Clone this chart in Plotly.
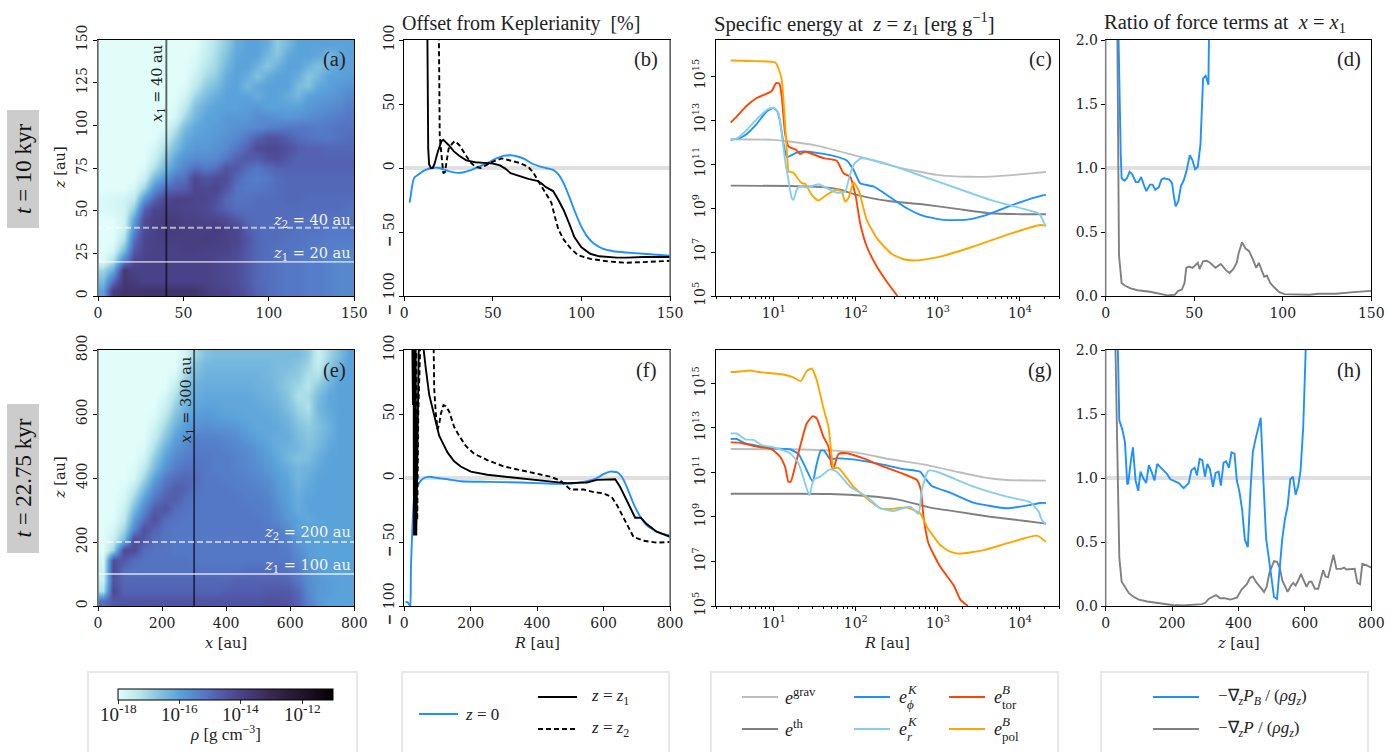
import numpy as np
import plotly.graph_objects as go

W, H = 1391, 752
SERIF = "Liberation Serif"
TICK = "DejaVu Serif"
BLUE, BLACK, GRAV, THERM, LBLUE, RED, ORANGE = "#1e90ff", "#000000", "#bdbdbd", "#808080", "#87ceeb", "#ff4500", "#ffa500"

# ---- density maps: -10*log10(rho), rows bottom to top
x_a = [3 + 6 * i for i in range(25)]
z_a = x_a
rho_a = [
 [160,138,135,135,135,135,135,135,135,135,138,140,140,142,145,148,150,151,152,152,153,153,154,155,155],
 [165,150,136,138,140,140,140,140,140,140,140,141,142,143,146,149,150,151,152,152,153,153,154,155,155],
 [170,162,137,140,140,140,140,140,140,140,140,141,142,143,146,149,150,151,152,152,153,153,154,155,155],
 [180,172,155,142,140,140,140,140,140,140,140,141,142,143,146,149,150,151,152,152,153,153,154,155,155],
 [180,178,165,146,141,140,140,140,139,139,140,140,140,142,146,149,150,151,151,152,152,153,153,154,154],
 [180,180,172,150,141,140,139,139,139,139,138,139,140,141,145,149,150,150,151,151,152,152,153,153,153],
 [180,180,176,156,142,140,138,138,139,139,139,138,140,141,147,149,150,150,150,151,151,151,152,152,152],
 [180,180,177,160,143,140,138,138,140,140,141,141,143,146,149,150,150,150,150,150,151,151,151,151,151],
 [179,178,177,168,148,141,140,140,141,141,142,145,148,150,150,150,150,150,150,150,150,150,150,150,151],
 [179,178,177,174,158,148,142,140,140,141,141,144,149,151,151,150,150,150,149,149,150,150,150,150,150],
 [180,180,180,178,170,157,150,148,147,141,142,141,145,151,152,152,151,150,149,149,149,149,149,149,149],
 [180,180,180,180,176,165,158,152,150,142,145,143,143,149,152,153,152,150,149,149,149,149,149,149,149],
 [180,180,180,180,179,172,164,158,154,150,152,150,145,146,150,152,150,148,148,148,148,148,148,148,148],
 [180,180,180,180,180,176,168,161,157,156,156,155,152,148,146,147,144,143,146,148,148,148,148,148,148],
 [180,180,180,180,180,178,172,165,160,158,158,157,155,152,148,143,142,142,144,147,148,148,149,149,149],
 [180,180,180,180,180,180,176,169,162,160,159,158,157,155,152,148,145,145,148,150,151,152,152,151,150],
 [180,180,180,180,180,180,179,173,165,161,160,159,158,157,156,155,154,153,152,152,152,153,152,151,151],
 [180,180,180,180,180,180,180,178,170,164,160,160,158,158,158,156,156,157,158,157,156,155,154,153,152],
 [180,180,180,180,180,180,180,179,174,166,162,160,160,160,159,158,160,160,160,160,158,157,156,155,153],
 [180,180,180,180,180,180,180,180,177,170,165,162,160,160,160,162,160,160,162,164,160,159,158,157,155],
 [180,180,180,180,180,180,180,180,179,174,168,165,161,160,164,161,160,160,160,165,166,161,160,158,157],
 [180,180,180,180,180,180,180,180,180,176,171,168,162,160,162,166,162,160,160,162,167,164,160,160,159],
 [180,180,180,180,180,180,180,180,180,178,173,170,164,160,160,163,167,163,160,160,163,166,163,160,160],
 [180,180,180,180,180,180,180,180,180,179,175,171,166,161,160,160,164,167,161,160,160,161,164,161,160],
 [180,180,180,180,180,180,180,180,180,180,176,172,168,162,160,160,162,168,164,160,160,160,160,160,160],
]
x_e = [16 + 32 * i for i in range(25)]
z_e = x_e
rho_e = [
 [150,146,145,145,145,145,145,145,145,145,145,145,145,145,145,145,144,144,145,148,154,158,160,160,160],
 [172,142,148,148,148,148,148,148,148,148,148,148,147,147,147,147,146,146,146,149,155,158,159,160,160],
 [176,145,149,149,149,149,149,149,149,149,149,149,149,148,148,148,148,148,149,152,156,158,159,160,160],
 [177,142,150,151,151,151,151,151,151,151,151,151,151,151,150,150,150,150,151,153,157,159,160,160,160],
 [178,144,146,150,151,151,151,151,151,152,152,152,152,152,152,152,152,152,152,155,158,160,160,160,160],
 [180,170,142,143,150,151,151,152,152,152,152,152,152,152,152,152,152,152,153,156,159,160,160,160,160],
 [180,176,165,143,146,150,151,152,152,152,152,152,152,152,152,152,152,152,154,158,160,160,160,160,160],
 [180,178,170,155,144,148,151,152,152,152,152,152,152,152,152,152,152,153,156,160,160,160,160,160,160],
 [180,180,174,160,150,144,150,151,152,152,152,152,152,152,152,152,153,155,158,160,161,160,160,160,160],
 [180,180,176,165,155,147,145,150,151,152,152,152,152,152,152,153,153,156,159,162,160,160,160,160,160],
 [180,180,178,170,160,152,148,147,150,152,152,152,152,152,153,153,154,157,160,162,160,160,160,160,160],
 [180,180,179,174,165,156,150,147,148,151,152,152,152,153,153,154,155,158,160,163,161,160,160,160,160],
 [180,180,180,178,170,160,153,150,149,150,152,152,153,153,154,155,156,159,161,164,162,160,160,160,160],
 [180,180,180,179,174,165,157,153,151,151,152,153,153,154,155,156,158,160,162,164,163,161,160,160,160],
 [180,180,180,180,177,168,160,155,153,152,152,153,153,154,155,157,159,161,164,166,165,162,160,160,160],
 [180,180,180,180,179,172,163,158,155,153,153,153,154,155,156,158,160,162,163,164,166,164,161,160,160],
 [180,180,180,180,180,175,167,160,157,154,154,154,155,156,158,160,161,162,162,165,167,165,162,160,160],
 [180,180,180,180,180,177,170,163,159,157,156,157,157,158,160,161,161,161,163,166,168,166,163,160,160],
 [180,180,180,180,180,179,173,166,161,159,158,159,160,160,161,161,161,162,164,168,170,165,162,160,160],
 [180,180,180,180,180,180,176,169,163,161,160,160,161,161,161,161,162,163,166,170,172,164,161,160,160],
 [180,180,180,180,180,180,178,172,165,162,161,161,161,161,161,162,163,164,167,172,171,165,161,160,160],
 [180,180,180,180,180,180,180,175,167,163,162,162,162,162,162,163,163,165,168,170,173,168,163,160,160],
 [180,180,180,180,180,180,180,178,170,165,163,163,163,163,163,163,164,165,167,168,172,172,165,161,160],
 [180,180,180,180,180,180,180,180,174,167,164,164,164,164,164,164,164,165,165,167,170,175,168,163,160],
 [180,180,180,180,180,180,180,180,177,170,166,165,165,165,165,165,165,165,165,165,168,176,170,165,160],
]

# ---- panel b
b_blue_x = [3,4,5,6,8,10,12,15,18,20,25,30,33,38,42,47,52,56,60,64,68,72,76,80,84,87,90,93,96,100,103,107,112,118,125,135,150]
b_blue_y = [-27,-18,-10,-7,-5,-3,-1.5,-0.2,0.3,0,-2.5,-3.8,-3.5,-1.5,1,4,7.5,9.5,10,9,7,3.5,1.5,0,-1.5,-5,-12,-22,-33,-46,-53,-59,-63,-65,-66,-67,-68.5]
b_z1_x = [13,13.2,13.5,14,15,16,17,19,21,22,25,28,31,35,40,45,50,54,57,60,65,70,75,77,80,84,87,90,93,96,100,105,110,120,126,135,150]
b_z1_y = [110,30,15,3,0,0,3,13,21,22,18,13,9.5,6,4.5,4,3.5,2,-0.5,-4,-6.5,-8.5,-10,-11.5,-15,-18,-25,-33,-43,-54,-62,-67,-69,-70,-70,-69.5,-69.5]
b_z2_x = [19.5,19.8,20,21,22,23,24,25,27,28.5,31,34,37,40,43,46,50,55,60,65,70,73,76,80,83,85,87,90,94,98,105,115,125,135,150]
b_z2_y = [110,60,25,10,-4,-3,5,15,19,21,18,12,5,1,0,2,5,7.5,6,4,1,-4,-11,-20,-27,-38,-48,-56,-63,-68,-71,-73,-74,-73.5,-72.5]
# ---- panel f
f_blue_x = [3,10,17,18,20,25,30,35,40,50,60,75,100,130,170,250,350,450,500,550,580,600,620,640,655,670,690,710,730,760,800]
f_blue_y = [-97,-97,-100,-100,-70,-35,-15,-10,-6,-2,0,1,0,-1,-2.5,-3,-3.5,-4.5,-4.5,-2.5,0,3,5,4.5,1,-7,-20,-30,-37,-42,-45]
f_z1_x = [24,26,28,29,31,32,34,36,45,57,65,75,90,105,130,150,170,200,250,300,350,400,450,490,550,580,620,635,650,670,695,712,730,760,800]
f_z1_y = [110,57,110,-45,110,-45,110,-45,130,100,85,65,48,33,20,13,9,5,2.5,1,-0.5,-2,-3,-4,-3.5,-1.5,-1,-1,-7,-18,-31,-31,-36,-42,-46]
f_z2_x = [36,39,42,45,50,88,89,90,95,100,105,110,118,125,135,150,165,185,210,250,300,350,400,440,470,500,540,570,600,625,640,655,670,690,720,760,800]
f_z2_y = [110,-33,50,100,120,110,100,70,50,38,42,50,57,56,52,40,33,25,19,14,9,6,3.5,1,-2,-9,-9,-11,-12,-15,-21,-28,-36,-46,-49,-50.5,-50]

# ---- panel c, log10 values
c_grav_x = [0.476,1,1.138,1.524,2.01,2.5,2.99,3.39,3.64,4.04,4.317]
c_grav_y = [12.13,12.1,12.05,11.84,11.37,10.86,10.51,10.42,10.43,10.54,10.64]
c_th_x = [0.476,1.2,1.6,1.81,2.01,2.42,2.83,3.23,3.64,4.04,4.317]
c_th_y = [10.02,10.0,9.95,9.83,9.6,9.31,9.16,8.96,8.76,8.72,8.72]
c_phi_x = [0.476,.589,.671,.793,.915,.996,1.045,1.077,1.118,1.159,1.199,1.28,1.362,1.524,1.728,1.89,1.972,2.053,2.215,2.419,2.622,2.825,3.069,3.354,3.557,3.841,4.126,4.317]
c_phi_y = [12.1,12.19,12.37,12.83,13.39,13.54,13.39,12.94,11.95,11.31,11.37,11.52,11.57,11.51,11.37,11.16,10.74,10.13,9.98,9.49,8.99,8.64,8.46,8.47,8.64,9.04,9.42,9.61]
c_tor_x = [.476,.549,.671,.793,.976,1.028,1.069,1.098,1.138,1.179,1.272,1.321,1.382,1.606,1.768,1.85,1.931,2.0,2.053,2.134,2.256,2.378,2.508]
c_tor_y = [12.89,13.16,13.65,14,14.32,14.68,14.65,14.07,12.4,11.8,11.65,11.45,11.56,11.27,11.15,10.58,10.43,9.52,8.31,7.25,6.34,5.65,5]
c_r_x = [.476,.549,.671,.793,.935,1.004,1.057,1.098,1.138,1.179,1.22,1.24,1.28,1.321,1.402,1.545,1.646,1.768,1.87,1.923,1.972,2.053,2.134,2.419,2.825,3.232,3.638,4.045,4.228,4.268,4.317]
c_r_y = [12.13,12.16,12.55,13.04,13.51,13.56,13.32,12.4,11.19,10.28,9.45,9.37,9.83,10.0,9.93,10.08,9.9,9.7,9.75,10.43,10.96,11.24,11.24,10.96,10.43,9.9,9.37,8.96,8.76,8.54,8.16]
c_pol_x = [.476,.793,1.016,1.057,1.098,1.138,1.167,1.183,1.24,1.289,1.341,1.382,1.463,1.545,1.646,1.768,1.829,1.87,1.911,1.972,2.033,2.134,2.256,2.439,2.581,2.744,3.028,3.435,3.841,4.248,4.317]
c_pol_y = [15.71,15.68,15.62,15.36,14.83,12.86,11.19,10.66,10.61,10.36,10.13,10.1,9.6,9.34,9.6,9.83,9.75,9.29,9.45,10.16,9.83,8.46,7.63,6.91,6.67,6.62,6.79,7.25,7.78,8.23,8.2]
# ---- panel g, log10 values
g_grav_x = [.476,1.199,1.606,2.013,2.419,2.825,3.232,3.557,3.841,4.317]
g_grav_y = [12.05,12.04,12.0,11.89,11.59,11.36,11.03,10.78,10.66,10.63]
g_th_x = [.476,1.199,1.687,2.134,2.5,2.744,2.907,3.232,3.638,4.045,4.317]
g_th_y = [10.04,10.04,10.03,9.94,9.79,9.58,9.42,9.24,9.01,8.83,8.7]
g_phi_x = [.476,.549,.65,.793,.996,1.199,1.301,1.382,1.476,1.516,1.573,1.614,1.687,1.768,1.931,2.256,2.581,2.785,2.846,2.927,3.15,3.435,3.841,4.126,4.248,4.317]
g_phi_y = [12.5,12.5,12.31,12.2,12.08,12.04,11.83,11.26,10.58,11.26,11.98,11.98,11.6,11.63,11.6,11.41,11.15,11.03,10.73,10.39,10.09,9.64,9.39,9.54,9.63,9.63]
g_tor_x = [.476,.569,.65,.793,.976,1.077,1.138,1.179,1.207,1.26,1.321,1.402,1.476,1.524,1.606,1.667,1.707,1.728,1.789,1.89,2.093,2.337,2.581,2.744,2.793,2.825,2.886,3.028,3.191,3.272,3.366]
g_tor_y = [12.35,12.34,12.28,12.16,12.04,11.71,11.26,10.58,10.58,11.26,12.16,13.2,13.53,13.43,12.6,12.16,11.26,11.18,11.83,11.86,11.63,11.26,10.93,10.66,10.21,9.01,7.81,6.77,5.94,5.3,5]
g_pol_x = [.476,.569,.711,.813,1.118,1.24,1.329,1.402,1.463,1.524,1.606,1.667,1.715,1.728,1.789,1.972,2.134,2.297,2.419,2.622,2.785,2.866,3.028,3.15,3.272,3.557,3.841,4.207,4.317]
g_pol_y = [15.51,15.52,15.58,15.51,15.4,15.27,15.1,15.55,15.67,15.15,13.88,13.05,11.41,11.18,11.21,10.36,9.84,9.39,9.36,9.42,9.16,8.56,7.74,7.44,7.35,7.51,7.81,8.16,7.89]
g_r_x = [.476,.549,.65,.752,.854,.996,1.199,1.301,1.382,1.435,1.484,1.565,1.687,1.768,1.931,2.134,2.297,2.459,2.663,2.764,2.805,2.886,2.988,3.435,3.841,4.126,4.228,4.268,4.317]
g_r_y = [12.75,12.75,12.49,12.46,12.23,12.13,11.86,11.41,10.51,9.97,10.66,10.81,11.14,11.03,10.36,9.91,9.39,9.27,9.46,9.13,10.21,11.08,11.03,10.36,9.91,9.66,9.24,8.86,8.67]

# ---- panel d
d_pb_x = [7,7.2,8.5,9,10.5,12,13.5,15,17,18.5,20,22,23,25,26.5,28,30,31.5,33,36,37.5,38.5,39.5,41,42.5,44,45.5,47.5,49,50.5,52,53.5,55,56.5,58,58.3,59]
d_pb_y = [2.2,2.0,1.1,.92,.9,.92,.97,.95,.89,.89,.93,.85,.82,.87,.87,.83,.85,.91,.92,.91,.88,.78,.7,.74,.86,.9,.97,1.1,1.06,.99,1.01,1.18,1.7,1.72,1.65,2.0,2.3]
d_p_x = [6.5,7.5,9,11,14,18,25,30,35,39,41,43,44.5,45.5,47,49,51,52,53,55,57,59,62,65,68,70,72,74,75,77,79,81,83,85,86.5,88,89.5,91,93,95,98,101,110,115,120,130,140,150]
d_p_y = [2.2,.32,.1,.08,.06,.045,.033,.02,.005,.01,.04,.05,.1,.22,.23,.22,.25,.26,.21,.27,.275,.26,.22,.25,.2,.18,.21,.26,.33,.42,.37,.35,.29,.22,.26,.2,.15,.16,.1,.07,.03,.015,.012,.01,.017,.018,.03,.04]
# ---- panel h
h_pb_x = [35,41,50,58,65,68,75,82,90,98,105,113,122,130,138,147,155,170,185,195,210,220,235,250,258,268,275,283,291,299,306,314,323,331,340,347,355,363,371,379,388,395,403,411,419,428,436,443,451,459,467,475,483,491,499,507,516,524,532,540,548,556,564,572,580,587,595,603]
h_pb_y = [2.2,1.45,1.38,1.28,.95,.96,1.12,1.24,.98,.9,1.05,1.0,.96,1.1,1.05,.98,1.11,1.07,1.03,.99,.97,.96,.92,.96,1.06,1.08,1.02,1.15,1.14,1.01,1.11,1.07,.93,1.04,1.05,.94,1.12,1.13,1.08,1.2,1.19,.98,.89,.75,.52,.46,.9,1.2,1.3,1.38,1.47,.98,.53,.38,.2,.07,.055,.3,.53,.68,.78,.99,1.01,.87,.94,1.06,1.4,2.05]
h_p_x = [28,35,41,48,58,70,85,100,125,150,180,200,235,270,290,300,310,332,345,360,375,395,410,425,435,443,455,465,477,485,493,507,516,524,532,548,558,565,572,580,588,605,613,620,630,640,655,662,670,686,695,710,718,725,750,758,766,773,785,800]
h_p_y = [2.2,1.2,.38,.19,.15,.1,.07,.05,.035,.025,.015,.008,.005,.01,.015,.025,.055,.085,.06,.06,.05,.065,.13,.17,.22,.23,.18,.15,.11,.15,.26,.35,.345,.3,.2,.11,.16,.18,.16,.2,.25,.15,.19,.19,.135,.135,.28,.23,.225,.4,.29,.29,.3,.285,.29,.18,.17,.33,.32,.3]

cbar_ticks = [-18, -16, -14, -12]
cbar_labels = ["10<sup>-18</sup>", "10<sup>-16</sup>", "10<sup>-14</sup>", "10<sup>-12</sup>"]

COLORS = [[0, "#e0fdf9"], [0.1, "#b8e6ec"], [0.171, "#8fcbe0"], [0.286, "#5aa2da"], [0.4, "#5478c6"],
          [0.486, "#5258a8"], [0.571, "#4a4288"], [0.714, "#372850"], [0.857, "#20142a"], [1, "#050005"]]

px = lambda v: v / W
py = lambda v: 1 - v / H

COLS = [(98, 354.3), (404.3, 670), (715.7, 1059.3), (1105.7, 1371.3)]
ROWS = [(40, 296), (350, 606)]

fig = go.Figure()
axis_common = dict(showline=True, mirror=True, linecolor="black", linewidth=1, ticks="outside", ticklen=4, tickwidth=1,
                   tickcolor="black", showgrid=False, zeroline=False, tickfont=dict(family=TICK, size=14, color="#222"))
layout = {}
RANGES = {
    0: ([0, 150], [0, 150]), 1: ([0, 150], [-100, 100]), 2: ([0.293, 4.48], [5, 16.64]), 3: ([0, 150], [0, 2]),
    4: ([0, 800], [0, 800]), 5: ([0, 800], [-100, 100]), 6: ([0.293, 4.48], [5, 16.5]), 7: ([0, 800], [0, 2]),
}
for r, (y0, y1) in enumerate(ROWS):
    for c, (x0, x1) in enumerate(COLS):
        k = r * 4 + c
        xa = dict(axis_common, domain=[px(x0), px(x1)], range=RANGES[k][0], anchor=f"y{k+1}")
        ya = dict(axis_common, domain=[py(y1), py(y0)], range=RANGES[k][1], anchor=f"x{k+1}")
        if c in (0, 1, 2):
            ya["tickangle"] = -90
        if c == 2:
            xa.update(type="log", tickvals=[10, 100, 1000, 10000],
                      ticktext=["10<sup>1</sup>", "10<sup>2</sup>", "10<sup>3</sup>", "10<sup>4</sup>"],
                      minor=dict(ticks="outside", ticklen=2, tickwidth=1, tickcolor="black", dtick="D1", showgrid=False))
            ya.update(type="log", tickvals=[1e5, 1e7, 1e9, 1e11, 1e13, 1e15],
                      ticktext=["10<sup>5</sup>", "10<sup>7</sup>", "10<sup>9</sup>", "10<sup>11</sup>", "10<sup>13</sup>", "10<sup>15</sup>"])
        elif c == 1:
            ya.update(tickvals=[-100, -50, 0, 50, 100], ticktext=["<b>−</b> 100", "<b>−</b> 50", "0", "50", "100"])
            xa.update(tickvals=[0, 50, 100, 150] if r == 0 else [0, 200, 400, 600, 800])
        elif c == 0:
            tv = [0, 25, 50, 75, 100, 125, 150] if r == 0 else [0, 200, 400, 600, 800]
            ya.update(tickvals=tv)
            xa.update(tickvals=[0, 50, 100, 150] if r == 0 else [0, 200, 400, 600, 800])
        else:
            ya.update(tickvals=[0, .5, 1, 1.5, 2], ticktext=["0.0", "0.5", "1.0", "1.5", "2.0"])
            xa.update(tickvals=[0, 50, 100, 150] if r == 0 else [0, 200, 400, 600, 800])
        layout[f"xaxis{k+1}"] = xa
        layout[f"yaxis{k+1}"] = ya


def line(k, x, y, color, dash=None, smooth=False, log=False):
    xv = 10 ** np.array(x) if log else x
    yv = 10 ** np.array(y) if log else y
    l = dict(color=color, width=1.9)
    if dash:
        l["dash"] = dash
    if smooth:
        l.update(shape="spline", smoothing=0.5)
    fig.add_trace(go.Scatter(x=xv, y=yv, mode="lines", line=l, xaxis=f"x{k+1}", yaxis=f"y{k+1}", showlegend=False, hoverinfo="skip"))


# density maps
cb = dict(orientation="h", lenmode="pixels", len=215, thicknessmode="pixels", thickness=11, x=px(225.5), xanchor="center",
          y=py(688.5), yanchor="top", xpad=0, ypad=0, outlinecolor="black", outlinewidth=1, ticks="outside", ticklen=4, tickcolor="#333",
          tickvals=cbar_ticks, showticklabels=False)
fig.add_trace(go.Heatmap(x=x_a, y=z_a, z=-np.array(rho_a) / 10, colorscale=COLORS, zmin=-18, zmax=-11, zsmooth="best",
                         xaxis="x1", yaxis="y1", colorbar=cb, hoverinfo="skip"))
fig.add_trace(go.Heatmap(x=x_e, y=z_e, z=-np.array(rho_e) / 10, colorscale=COLORS, zmin=-18, zmax=-11, zsmooth="best",
                         xaxis="x5", yaxis="y5", showscale=False, hoverinfo="skip"))

# reference bands
for k, yy in [(1, 0), (5, 0), (3, 1), (7, 1)]:
    xr = RANGES[k][0]
    line(k, xr, [yy, yy], "#e0e0e0")
    fig.data[-1].line.width = 4

# guide lines on the maps
WL = "rgba(255,255,255,0.6)"
for k, xl, z1, z2 in [(0, 40, 20, 40), (4, 300, 100, 200)]:
    xr = RANGES[k][0]
    line(k, [xl, xl], xr, "rgba(0,0,0,0.6)")
    line(k, xr, [z1, z1], WL)
    line(k, xr, [z2, z2], WL, dash="6px,3px")

line(1, b_blue_x, b_blue_y, BLUE, smooth=True)
line(1, b_z1_x, b_z1_y, BLACK)
line(1, b_z2_x, b_z2_y, BLACK, dash="5px,3px")
line(5, f_blue_x, f_blue_y, BLUE, smooth=True)
line(5, f_z1_x, f_z1_y, BLACK)
line(5, f_z2_x, f_z2_y, BLACK, dash="5px,3px")

for k, s in [(2, [(c_grav_x, c_grav_y, GRAV), (c_th_x, c_th_y, THERM), (c_phi_x, c_phi_y, BLUE), (c_tor_x, c_tor_y, RED), (c_pol_x, c_pol_y, ORANGE), (c_r_x, c_r_y, LBLUE)]),
             (6, [(g_grav_x, g_grav_y, GRAV), (g_th_x, g_th_y, THERM), (g_phi_x, g_phi_y, BLUE), (g_tor_x, g_tor_y, RED), (g_pol_x, g_pol_y, ORANGE), (g_r_x, g_r_y, LBLUE)])]:
    for xs, ys, col in s:
        line(k, xs, ys, col, smooth=True, log=True)

line(3, d_p_x, d_p_y, THERM)
line(3, d_pb_x, d_pb_y, BLUE)
line(7, h_p_x, h_p_y, THERM)
line(7, h_pb_x, h_pb_y, BLUE)

shapes, ann = [], []


def hl(x0, x1, y, color, width=2, dash=None):
    l = dict(color=color, width=width)
    if dash:
        l["dash"] = dash
    shapes.append(dict(type="line", xref="paper", yref="paper", x0=px(x0), x1=px(x1), y0=py(y), y1=py(y), line=l))


def txt(x, y, s, size=15, color="#222", family=SERIF, xanchor="left", angle=0):
    ann.append(dict(xref="paper", yref="paper", x=px(x), y=py(y), text=s, showarrow=False, xanchor=xanchor, yanchor="middle",
                    textangle=angle, font=dict(family=family, size=size, color=color), align="left"))


# colour bar labels
for tv, lb in zip(cbar_ticks, cbar_labels):
    txt(118 + (tv + 18) * 215 / 7, 713, lb, size=19, xanchor="center")
txt(225.5, 733, "<i>ρ</i> [g cm<sup>−3</sup>]", size=17, xanchor="center")

# grey spines
for (x, (y0, y1)) in [(98, ROWS[0]), (98, ROWS[1]), (670, ROWS[0]), (670, ROWS[1]), (1105.7, ROWS[0]), (1105.7, ROWS[1])]:
    shapes.append(dict(type="line", xref="paper", yref="paper", x0=px(x), x1=px(x), y0=py(y0), y1=py(y1), line=dict(color="#808080", width=1.6)))

# time boxes
for (y0, y1, s) in [(110, 228, "<i>t</i> = 10 kyr"), (404, 553, "<i>t</i> = 22.75 kyr")]:
    shapes.append(dict(type="rect", xref="paper", yref="paper", x0=px(7), x1=px(39), y0=py(y1), y1=py(y0), fillcolor="#cccccc", line=dict(width=0), layer="below"))
    txt(23, (y0 + y1) / 2, s, size=23, xanchor="center", angle=-90, color="#111")

# legend boxes
for (x0, x1) in [(88, 357), (402, 669), (711, 1058), (1101, 1368)]:
    shapes.append(dict(type="rect", xref="paper", yref="paper", x0=px(x0), x1=px(x1), y0=-0.05, y1=py(672), line=dict(color="#e8e8e8", width=2), fillcolor="rgba(0,0,0,0)"))

hl(419, 458, 714, BLUE)
txt(463, 714, "<i>z</i> = 0", size=17)
hl(538, 577, 697, BLACK)
txt(589, 697, "<i>z</i> = <i>z</i><sub>1</sub>", size=17)
hl(538, 577, 729, BLACK, dash="5px,3px")
txt(589, 729, "<i>z</i> = <i>z</i><sub>2</sub>", size=17)

hl(742, 778, 697, GRAV)
txt(783, 696, "<i>e</i><sup>grav</sup>", size=18)
hl(742, 778, 729, THERM)
txt(783, 728, "<i>e</i><sup>th</sup>", size=18)
hl(854, 890, 697, BLUE)
hl(854, 890, 729, LBLUE)
hl(949, 985, 697, RED)
hl(949, 985, 729, ORANGE)
for (xe, ye, sup, sub) in [(897, 697, "<i>K</i>", "<i>ϕ</i>"), (897, 729, "<i>K</i>", "<i>r</i>"), (992, 697, "<i>B</i>", "tor"), (992, 729, "<i>B</i>", "pol")]:
    txt(xe, ye, "<i>e</i>", size=18)
    txt(xe + 8, ye - 8, sup, size=13)
    txt(xe + 8, ye + 7, sub, size=13)

hl(1153, 1199, 697, BLUE)
hl(1153, 1199, 729, THERM)
txt(1216, 697, "−∇<sub><i>z</i></sub><i>P</i><sub><i>B</i></sub> / (<i>ρg</i><sub><i>z</i></sub>)", size=17)
txt(1216, 729, "−∇<sub><i>z</i></sub><i>P</i> / (<i>ρg</i><sub><i>z</i></sub>)", size=17)

# titles
txt(400, 23, "Offset from Keplerianity  [%]", size=20)
txt(712, 23, "Specific energy at  <i>z</i> = <i>z</i><sub>1</sub> [erg g<sup>−1</sup>]", size=20.7)
txt(1102, 24, "Ratio of force terms at  <i>x</i> = <i>x</i><sub>1</sub>", size=20.5)

# panel letters
for (x, y, s) in [(334, 59, "(a)"), (645.7, 59, "(b)"), (1040, 59, "(c)"), (1349, 59, "(d)"),
                  (334, 370, "(e)"), (645.7, 370, "(f)"), (1040, 370, "(g)"), (1349, 370, "(h)")]:
    txt(x, y, s, size=20.5, xanchor="center")

# map labels
txt(353, 221, "<i>z</i><sub>2</sub> = 40 au", size=14.5, color="#f4f4f4", family=TICK, xanchor="right")
txt(353, 254, "<i>z</i><sub>1</sub> = 20 au", size=14.5, color="#f4f4f4", family=TICK, xanchor="right")
txt(353, 533, "<i>z</i><sub>2</sub> = 200 au", size=14.5, color="#f4f4f4", family=TICK, xanchor="right")
txt(353, 566, "<i>z</i><sub>1</sub> = 100 au", size=14.5, color="#f4f4f4", family=TICK, xanchor="right")
txt(158, 84, "<i>x</i><sub>1</sub> = 40 au", size=14.5, family=TICK, xanchor="center", angle=-90)
txt(187, 400, "<i>x</i><sub>1</sub> = 300 au", size=14.5, family=TICK, xanchor="center", angle=-90)

# axis labels
txt(60, 168, "<i>z</i> [au]", size=14.5, family=TICK, xanchor="center", angle=-90)
txt(60, 478, "<i>z</i> [au]", size=14.5, family=TICK, xanchor="center", angle=-90)
txt(226, 643, "<i>x</i> [au]", size=14.5, family=TICK, xanchor="center")
txt(537, 643, "<i>R</i> [au]", size=14.5, family=TICK, xanchor="center")
txt(887, 643, "<i>R</i> [au]", size=14.5, family=TICK, xanchor="center")
txt(1238, 643, "<i>z</i> [au]", size=14.5, family=TICK, xanchor="center")

fig.update_layout(**layout, width=W, height=H, margin=dict(l=0, r=0, t=0, b=0, autoexpand=False), paper_bgcolor="white", plot_bgcolor="white",
                  showlegend=False, shapes=shapes, annotations=ann)
fig.write_html("out.html", config={"displayModeBar": False},
               post_script="document.body.style.margin='0';document.body.style.overflow='hidden';")
